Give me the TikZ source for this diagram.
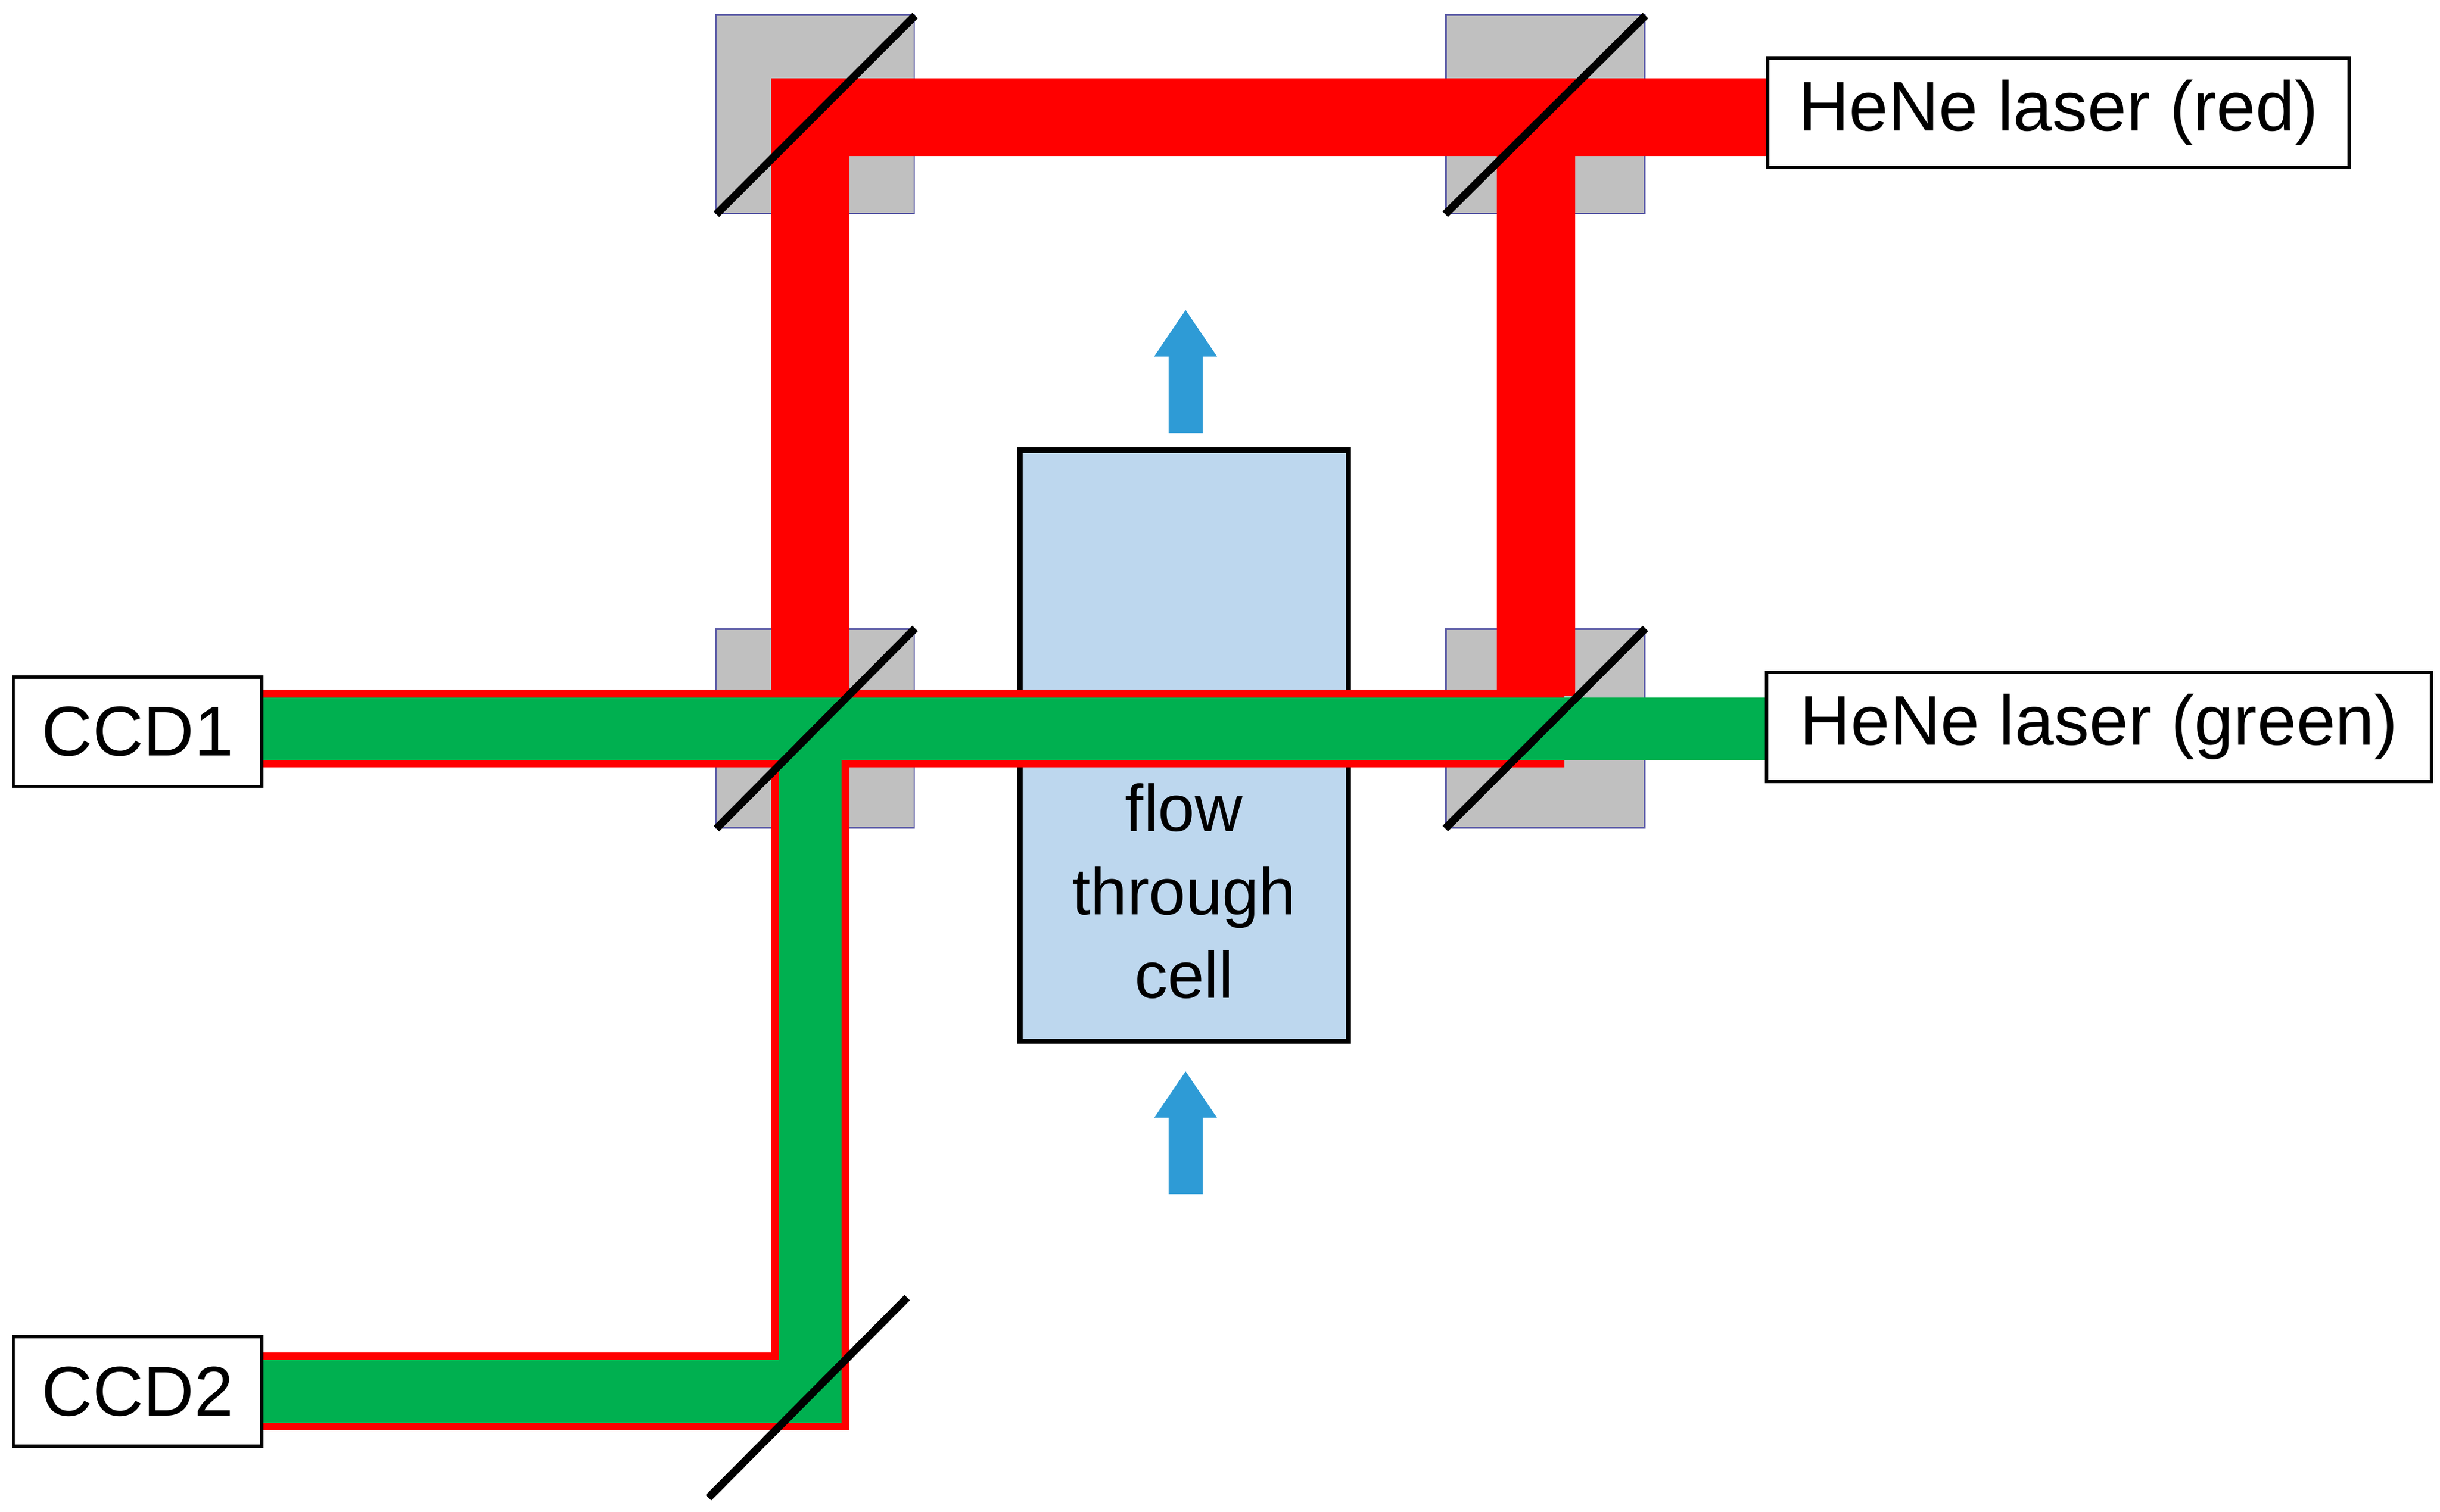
\documentclass[tikz,border=0pt]{standalone}
\usepackage{fontspec}
\setmainfont{Liberation Sans}
\usetikzlibrary{arrows.meta}
\definecolor{beamred}{RGB}{255,0,0}
\definecolor{beamgreen}{RGB}{0,176,80}
\definecolor{cellblue}{RGB}{189,215,238}
\definecolor{arrowblue}{RGB}{46,155,214}
\definecolor{mirrorgray}{RGB}{192,192,192}
\begin{document}
\begin{tikzpicture}[x=0.05cm,y=-0.05cm,
  lbl/.style={draw=black,line width=3pt,fill=white,font=\fontsize{64}{70}\selectfont,inner sep=0pt,minimum height=70*0.05cm},
  mbox/.style={draw=gray!70!blue,line width=1.5pt,fill=mirrorgray,minimum size=127*0.05cm,inner sep=0pt},
  mline/.style={line width=7pt,black},
  redbeam/.style={beamred,line width=50*0.05cm},
  greenbeam/.style={beamgreen,line width=40*0.05cm},
  flowarrow/.style={arrowblue,line width=22*0.05cm,-{Triangle[width=38*0.05cm,length=30*0.05cm]}}]
\useasboundingbox (0,0) rectangle (1560,967);
% mirror holders
\node[mbox] (m1) at (521,73) {};
\node[mbox] (m2) at (988,73) {};
\node[mbox] (m3) at (521,466) {};
\node[mbox] (m4) at (988,466) {};
% labels
\node[lbl,minimum width=372*0.05cm] (red) at (1316,72) {HeNe laser (red)};
\node[lbl,minimum width=425*0.05cm] (green) at (1342,465) {HeNe laser (green)};
\node[lbl,minimum width=159*0.05cm] (ccd1) at (88,468) {CCD1};
\node[lbl,minimum width=159*0.05cm] (ccd2) at (88,890) {CCD2};
% flow cell
\node[draw=black,line width=5pt,fill=cellblue,minimum width=210*0.05cm,minimum height=378*0.05cm,inner sep=0pt] (cell) at (757,477) {};
% beams
\draw[redbeam] (red.west |- 0,75) -- (518,75) -- (518,445);
\draw[redbeam] (982,75) -- (982,445);
\draw[redbeam] (ccd1.east |- 0,466) -- (1000,466);
\draw[redbeam] (518,466) -- (518,890) -- (ccd2.east |- 0,890);
\draw[greenbeam] (ccd1.east |- 0,466) -- (green.west |- 0,466);
\draw[greenbeam] (518,470) -- (518,890) -- (ccd2.east |- 0,890);
% cell text
\node[font=\fontsize{60}{76}\selectfont,align=center,inner sep=0pt] (celltext) at (757,570) {flow\\through\\cell};
% mirror lines
\draw[mline] (458,137) -- (585,10);
\draw[mline] (924,137) -- (1052,10);
\draw[mline] (458,530) -- (585,402);
\draw[mline] (924,530) -- (1052,402);
\draw[mline] (453,958) -- (580,830);
% flow arrows
\coordinate (a1s) at (758,277); \coordinate (a1e) at (758,198);
\coordinate (a2s) at (758,764); \coordinate (a2e) at (758,685);
\draw[flowarrow] (a1s) -- (a1e);
\draw[flowarrow] (a2s) -- (a2e);
\end{tikzpicture}
\end{document}
